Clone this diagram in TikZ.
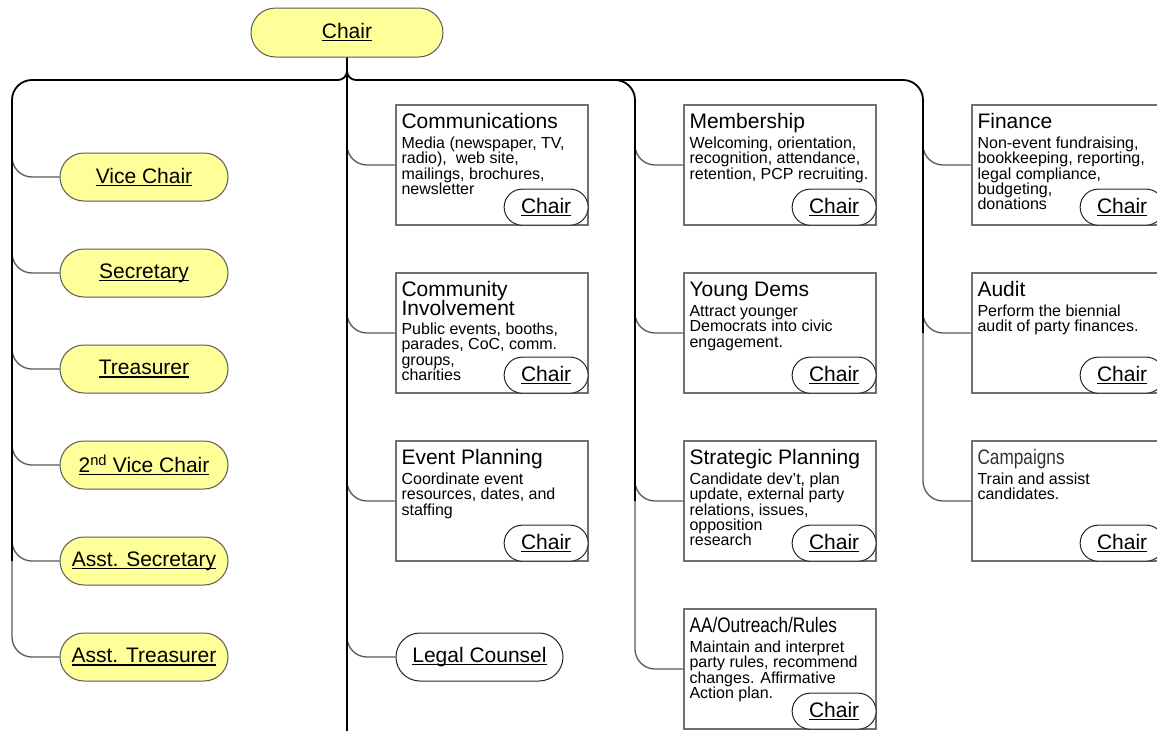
\documentclass[tikz,border=0pt]{standalone}
\usepackage{fontspec}
\setmainfont{Liberation Sans}
\newfontfamily\narrowfont[FakeStretch=0.82]{Liberation Sans}
\definecolor{pillyellow}{HTML}{FFFF99}
\definecolor{linegray}{HTML}{5A5A5A}
\definecolor{boxgray}{HTML}{707070}
\newcommand\undl[1]{\setbox0\hbox{#1}\rlap{\rule[-2.6pt]{\wd0}{1.1pt}}\box0}
\newcommand\txtlines[2]{\vtop{\baselineskip=#1\lineskiplimit=-100pt\lineskip=0pt\halign{##\hfil\cr#2\crcr}}}
\tikzset{
  pill/.style={draw=linegray, line width=1pt, fill=pillyellow, rounded corners=24pt,
    minimum width=168pt, minimum height=48pt, inner sep=0pt, font=\fontsize{21}{21}\selectfont},
  spill/.style={draw=black!85, line width=1pt, fill=white, rounded corners=18pt,
    minimum width=84pt, minimum height=36pt, inner sep=0pt, font=\fontsize{21}{21}\selectfont},
  box/.style={draw=boxgray, line width=1.3pt, fill=white, minimum width=192pt,
    minimum height=120pt, inner sep=0pt},
  ttl/.style={inner sep=0pt, anchor=base west, font=\fontsize{21}{21}\selectfont},
  desc/.style={inner sep=0pt, anchor=base west, font=\fontsize{16}{16}\selectfont},
  bus/.style={draw=black, line width=1.8pt},
  branch/.style={draw=linegray, line width=1.3pt, rounded corners=20pt}
}
\begin{document}
\begin{tikzpicture}[x=1pt,y=-1pt]
\clip (0,0) rectangle (1157,731);
\fill[white] (0,0) rectangle (1157,731);

% ---- top
\node[pill, minimum width=192pt, minimum height=49pt, rounded corners=24.5pt] (chair) at (347,32.5) {\undl{Chair}};

% ---- left officers
\node[pill] (vc)  at (144,177) {\undl{Vice Chair}};
\node[pill] (sec) at (144,273) {\undl{Secretary}};
\node[pill] (tr)  at (144,369) {\undl{Treasurer}};
\node[pill] (vc2) at (144,465) {\undl{2\textsuperscript{nd} Vice Chair}};
\node[pill] (as)  at (144,561) {\undl{Asst. Secretary}};
\node[pill] (at)  at (144,657) {\undl{Asst. Treasurer}};

% ---- committee boxes
\node[box] (comm) at (492,165) {};
\node[box] (ci)   at (492,333) {};
\node[box] (ep)   at (492,501) {};
\node[pill, fill=white, draw=black!85, minimum width=167pt] (legal) at (479.5,657) {\undl{Legal Counsel}};
\node[box] (mem)  at (780,165) {};
\node[box] (yd)   at (780,333) {};
\node[box] (sp)   at (780,501) {};
\node[box] (aa)   at (780,669) {};
\node[box] (fin)  at (1068,165) {};
\node[box] (aud)  at (1068,333) {};
\node[box] (camp) at (1068,501) {};

% ---- titles
\node[ttl] (commT) at ([shift={(6,24)}]comm.north west) {Communications};
\node[ttl] (ciT)   at ([shift={(6,24)}]ci.north west) {\txtlines{19pt}{Community\cr Involvement}};
\node[ttl] (epT)   at ([shift={(6,24)}]ep.north west) {Event Planning};
\node[ttl] (memT)  at ([shift={(6,24)}]mem.north west) {Membership};
\node[ttl] (ydT)   at ([shift={(6,24)}]yd.north west) {Young Dems};
\node[ttl] (spT)   at ([shift={(6,24)}]sp.north west) {Strategic Planning};
\node[ttl] (aaT)   at ([shift={(6,24)}]aa.north west) {\narrowfont AA/Outreach/Rules};
\node[ttl] (finT)  at ([shift={(6,24)}]fin.north west) {Finance};
\node[ttl] (audT)  at ([shift={(6,24)}]aud.north west) {Audit};
\node[ttl, text=black!80] (campT) at ([shift={(6,24)}]camp.north west) {\narrowfont Campaigns};

% ---- descriptions
\node[desc] (commD) at ([shift={(6,44)}]comm.north west) {\txtlines{15.4pt}{Media (newspaper, TV,\cr radio),\ \ web site,\cr mailings, brochures,\cr newsletter}};
\node[desc] (ciD) at ([shift={(6,62)}]ci.north west) {\txtlines{15.4pt}{Public events, booths,\cr parades, CoC, comm.\cr groups,\cr charities}};
\node[desc] (epD) at ([shift={(6,44)}]ep.north west) {\txtlines{15.4pt}{Coordinate event\cr resources, dates, and\cr staffing}};
\node[desc] (memD) at ([shift={(6,44)}]mem.north west) {\txtlines{15.4pt}{Welcoming, orientation,\cr recognition, attendance,\cr retention, PCP recruiting.}};
\node[desc] (ydD) at ([shift={(6,44)}]yd.north west) {\txtlines{15.4pt}{Attract younger\cr Democrats into civic\cr engagement.}};
\node[desc] (spD) at ([shift={(6,44)}]sp.north west) {\txtlines{15.4pt}{Candidate dev't, plan\cr update, external party\cr relations, issues,\cr opposition\cr research}};
\node[desc] (aaD) at ([shift={(6,44)}]aa.north west) {\txtlines{15.4pt}{Maintain and interpret\cr party rules, recommend\cr changes. Affirmative\cr Action plan.}};
\node[desc] (finD) at ([shift={(6,44)}]fin.north west) {\txtlines{15.4pt}{Non-event fundraising,\cr bookkeeping, reporting,\cr legal compliance,\cr budgeting,\cr donations}};
\node[desc] (audD) at ([shift={(6,44)}]aud.north west) {\txtlines{15.4pt}{Perform the biennial\cr audit of party finances.}};
\node[desc] (campD) at ([shift={(6,44)}]camp.north west) {\txtlines{15.4pt}{Train and assist\cr candidates.}};

% ---- small chair pills
\foreach \b in {comm,ci,ep,mem,yd,sp,aa,fin,aud,camp}
  \node[spill, anchor=south east] (\b C) at (\b.south east) {\undl{Chair}};

% ---- branches (left)
\draw[branch] (12,137) -- (12,177) -- (vc.west);
\draw[branch] (12,233) -- (12,273) -- (sec.west);
\draw[branch] (12,329) -- (12,369) -- (tr.west);
\draw[branch] (12,425) -- (12,465) -- (vc2.west);
\draw[branch] (12,521) -- (12,561) -- (as.west);
\draw[branch] (12,555) -- (12,657) -- (at.west);
% ---- branches (centre)
\draw[branch] (347,125) -- (347,165) -- (comm.west);
\draw[branch] (347,293) -- (347,333) -- (ci.west);
\draw[branch] (347,461) -- (347,501) -- (ep.west);
\draw[branch] (347,617) -- (347,657) -- (legal.west);
% ---- branches (third column)
\draw[branch] (635,125) -- (635,165) -- (mem.west);
\draw[branch] (635,293) -- (635,333) -- (yd.west);
\draw[branch] (635,461) -- (635,501) -- (sp.west);
\draw[branch] (635,495) -- (635,669) -- (aa.west);
% ---- branches (fourth column)
\draw[branch] (923,125) -- (923,165) -- (fin.west);
\draw[branch] (923,293) -- (923,333) -- (aud.west);
\draw[branch] (923,327) -- (923,501) -- (camp.west);

% ---- bus lines (on top of branch starts)
\coordinate (jn) at (347,80);
\coordinate (bottom) at (347,731);
\draw[bus] (chair.south) -- (bottom);
\draw[bus, rounded corners=9pt] (chair.south) -- (jn) -- (307,80);
\draw[bus, rounded corners=20pt] (307,80) -- (12,80) -- (12,561);
\draw[bus, rounded corners=9pt] (chair.south) -- (jn) -- (387,80);
\draw[bus, rounded corners=20pt] (387,80) -- (635,80) -- (635,501);
\draw[bus, rounded corners=20pt] (600,80) -- (923,80) -- (923,333);
\end{tikzpicture}
\end{document}
